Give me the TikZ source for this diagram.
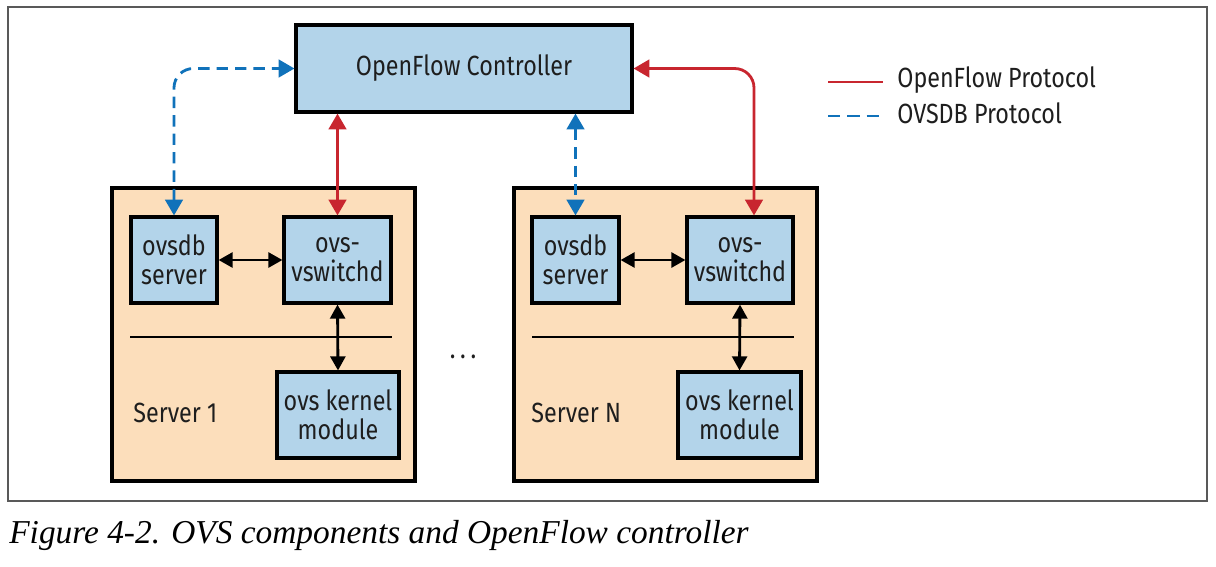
\documentclass[tikz,border=0pt]{standalone}
\usepackage{fontspec}
\newfontfamily\diagfont[FakeStretch=0.84]{Fira Sans}
\newfontfamily\capfont{Liberation Serif}
\usepackage{xcolor}
\usetikzlibrary{arrows.meta, positioning, calc}
\definecolor{compblue}{RGB}{179,212,234}
\definecolor{hostpeach}{RGB}{252,222,187}
\definecolor{ofred}{RGB}{200,38,47}
\definecolor{dbblue}{RGB}{16,114,186}
\definecolor{inktext}{RGB}{30,30,30}
\tikzset{
  compbox/.style={
    draw, line width=1.8pt, fill=compblue, align=center,
    font=\diagfont\fontsize{15.8}{16.5}\selectfont, text=inktext,
    minimum height=1.72cm, inner sep=2pt
  },
  hostbox/.style={
    draw, line width=1.8pt, fill=hostpeach,
    minimum width=6.06cm, minimum height=5.86cm
  },
  hostlabel/.style={
    font=\diagfont\fontsize{15.8}{16.5}\selectfont, text=inktext,
    anchor=west, inner sep=0pt
  },
  ofarrow/.style={
    {Triangle[length=9pt,width=10pt]}-{Triangle[length=9pt,width=10pt]},
    line width=1.6pt, color=ofred
  },
  dbarrow/.style={
    {Triangle[length=9pt,width=10pt]}-{Triangle[length=9pt,width=10pt]},
    line width=1.6pt, color=dbblue, dash pattern=on 6.5pt off 4pt
  },
  linkarrow/.style={
    {Triangle[length=8pt,width=8.5pt]}-{Triangle[length=8pt,width=8.5pt]},
    line width=1.6pt, color=black
  },
}

\begin{document}
\begin{tikzpicture}[x=0.02cm, y=-0.02cm]
  \useasboundingbox (0,0) rectangle (1216,566);

  % ── Frame ──────────────────────────────────────────────────────
  \draw[gray!70!black, line width=0.6pt] (8,7) rectangle (1207,501);

  % ── Controller ─────────────────────────────────────────────────
  \node[compbox, minimum width=6.72cm, minimum height=1.74cm]
    (ctrl) at (464,68.5) {OpenFlow Controller};

  % ── Server 1 ───────────────────────────────────────────────────
  \node[hostbox] (host1) at (263.5,334.5) {};
  \node[compbox, minimum width=1.72cm] (ovsdb1) at (174,260)
    {ovsdb\\server};
  \node[compbox, minimum width=2.14cm] (vswitchd1) at (337.5,260)
    {ovs-\\vswitchd};
  \node[compbox, minimum width=2.44cm] (kmod1) at (338,415)
    {ovs kernel\\module};
  \node[hostlabel] (label1) at (133,413) {Server 1};
  \draw[line width=1.4pt] (130,337) -- (392,337);

  \draw[linkarrow] (ovsdb1.east) -- (vswitchd1.west);
  \draw[linkarrow] (vswitchd1.south) -- (kmod1.north);

  % ── Server N ───────────────────────────────────────────────────
  \node[hostbox] (hostN) at (665.5,334.5) {};
  \node[compbox, minimum width=1.74cm] (ovsdbN) at (575.5,260)
    {ovsdb\\server};
  \node[compbox, minimum width=2.12cm] (vswitchdN) at (740,260)
    {ovs-\\vswitchd};
  \node[compbox, minimum width=2.46cm] (kmodN) at (739.5,415)
    {ovs kernel\\module};
  \node[hostlabel] (labelN) at (531,413) {Server N};
  \draw[line width=1.4pt] (532,337) -- (794,337);

  \draw[linkarrow] (ovsdbN.east) -- (vswitchdN.west);
  \draw[linkarrow] (vswitchdN.south) -- (kmodN.north);

  \node[font=\diagfont\fontsize{16}{16}\selectfont, text=inktext]
    (dots) at (463,357) {.\,.\,.};

  % ── Protocol links ─────────────────────────────────────────────
  \draw[dbarrow, rounded corners=11pt] (ovsdb1.north) |- (ctrl.west);
  \draw[ofarrow] (ctrl.south -| vswitchd1) -- (vswitchd1.north);
  \draw[dbarrow] (ctrl.south -| ovsdbN) -- (ovsdbN.north);
  \draw[ofarrow, rounded corners=11pt]
    (ctrl.east) -| ([xshift=0.28cm]vswitchdN.north);

  % ── Legend ─────────────────────────────────────────────────────
  \node[hostlabel] (legof) at (897,80) {OpenFlow Protocol};
  \node[hostlabel] (legdb) at (897,113) {OVSDB Protocol};
  \draw[ofred, line width=1.6pt] (828,82) -- (883,82);
  \draw[dbblue, line width=1.6pt, dash pattern=on 7pt off 4pt]
    (828,116) -- (883,116);

  % ── Caption ────────────────────────────────────────────────────
  \node[font=\capfont\itshape\fontsize{19}{21}\selectfont, anchor=base west,
        inner sep=0pt]
    (caption) at (9,543) {Figure 4-2. OVS components and OpenFlow controller};
\end{tikzpicture}
\end{document}
